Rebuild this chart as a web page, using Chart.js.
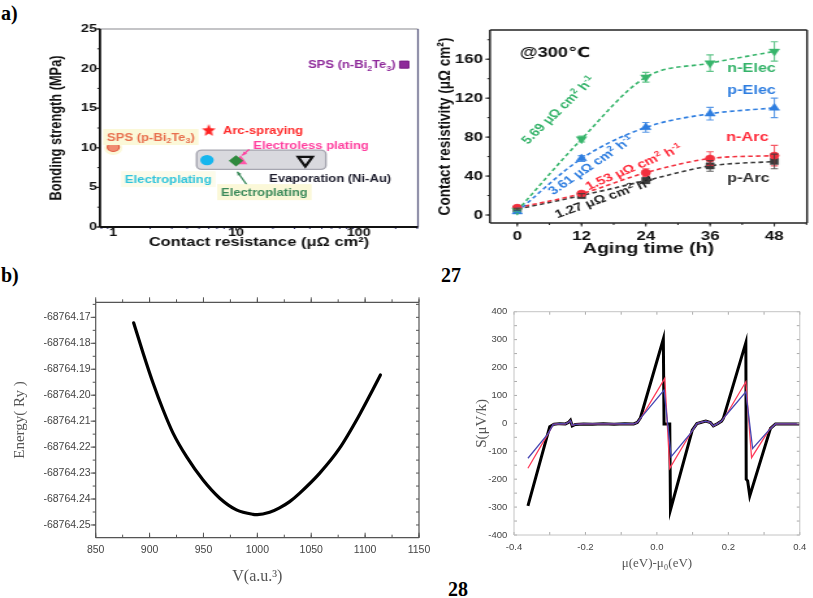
<!DOCTYPE html>
<html>
<head>
<meta charset="utf-8">
<title>Contact resistance, ageing, EOS and Seebeck panels</title>
<script src="https://cdn.jsdelivr.net/npm/chart.js@4.4.1/dist/chart.umd.min.js"></script>
<style>
  html, body { margin: 0; padding: 0; background: #fff; }
  body { position: relative; width: 813px; height: 598px; overflow: hidden; }
  .box { position: absolute; }
  .box canvas { display: block; }
  .wide { transform: scaleX(1.3); transform-origin: 0 0; }
  .tag { position: absolute; font: bold 20px "Liberation Serif", "DejaVu Serif", serif; line-height: 20px; color: #000; }
</style>
</head>
<body>
<div class="tag" style="left:1px;top:3px">a)</div>
<div class="tag" style="left:1px;top:265px">b)</div>
<div class="tag" style="left:441px;top:265px">27</div>
<div class="tag" style="left:448px;top:579px">28</div>

<div class="box wide" style="left:0;top:0"><canvas id="bond" width="323" height="260"></canvas></div>
<div class="box wide" style="left:420px;top:0"><canvas id="aging" width="302" height="260"></canvas></div>
<div class="box" style="left:0;top:260px"><canvas id="eos" width="440" height="338"></canvas></div>
<div class="box" style="left:440px;top:260px"><canvas id="seebeck" width="373" height="338"></canvas></div>

<script>
// a) left - bonding strength against contact resistance
const bondMethods = ['SPS (p-Bi2Te3)', 'Arc-spraying', 'Electroplating', 'Electroless plating', 'Electroplating', 'Evaporation (Ni-Au)', 'SPS (n-Bi2Te3)'];
const bondResist = [1.0, 6.0, 5.8, 10.9, 10.0, 36.7, 235];
const bondStrength = [10.1, 12.25, 8.45, 8.3, 8.35, 8.45, 20.5];
const resistTicks = [1, 10, 100];
const strengthTicks = [0, 5, 10, 15, 20, 25];
const groupBox = { x: [4.78, 54], y: [7.27, 9.71] };

// a) right - contact resistivity during ageing at 300 C
const agingHours = [0, 12, 24, 36, 48];
const nElec = [4.5, 78, 141.5, 156, 168];
const pElec = [3.5, 58, 90, 104, 110];
const nArc = [7.5, 22, 43.5, 58, 61];
const pArc = [6, 20, 35.3, 50.4, 55];
const nElecErr = [1, 3, 5, 8.5, 10];
const pElecErr = [1, 3, 5, 6.5, 10];
const nArcErr = [1, 2, 4, 7, 10.5];
const pArcErr = [1, 2, 3, 5.5, 7.5];
const hourTicks = [0, 12, 24, 36, 48];
const rhoTicks = [0, 40, 80, 120, 160];

// b) left - energy against cell volume
const cellVolume = [885.2, 894.1, 903.3, 912.6, 921.9, 934.3, 949.6, 965.1, 980.6, 995.9, 1000, 1011.4, 1020.6, 1030.0, 1039.1, 1057.7, 1076.2, 1094.7, 1107.0, 1114.2];
const totalEnergy = [-68764.1721, -68764.1839, -68764.1954, -68764.2057, -68764.2147, -68764.2237, -68764.2327, -68764.2397, -68764.2442, -68764.2459, -68764.2460,
  -68764.2451, -68764.2434, -68764.2410, -68764.2378, -68764.2301, -68764.2205, -68764.2076, -68764.1980, -68764.1922];
const volTicks = [850, 900, 950, 1000, 1050, 1100, 1150];
const energyTicks = [-68764.17, -68764.18, -68764.19, -68764.20, -68764.21, -68764.22, -68764.23, -68764.24, -68764.25];

// b) right - Seebeck coefficient against chemical potential
const seebeckBlack = [[-0.361, -296], [-0.300, -12], [-0.288, -3], [-0.272, -1], [-0.256, -2], [-0.247, 4], [-0.242, 11], [-0.237, -9], [-0.228, -4],
  [-0.205, -2], [-0.180, -3], [-0.150, -1], [-0.120, -3], [-0.090, -1], [-0.065, -2], [-0.055, 3], [-0.046, 20], [0.018, 302], [0.020, -2],
  [0.036, -2], [0.038, -310], [0.099, -24], [0.112, -1], [0.125, 4], [0.137, 8], [0.150, 3], [0.158, -9], [0.170, -1], [0.181, 8], [0.186, 18],
  [0.249, 289], [0.250, -200], [0.254, -206], [0.260, -260], [0.318, -18], [0.332, -2], [0.360, -2], [0.400, -2]];
const seebeckRed = [[-0.361, -161], [-0.304, -36], [-0.290, -4], [-0.272, -1], [-0.256, -2], [-0.247, 4], [-0.242, 10], [-0.237, -7], [-0.228, -4],
  [-0.205, -2], [-0.180, -2], [-0.150, -2], [-0.120, -2], [-0.090, -1], [-0.065, -2], [-0.055, 3], [-0.042, 24], [0.022, 161], [0.036, -161],
  [0.096, -32], [0.112, -1], [0.125, 4], [0.137, 8], [0.150, 3], [0.158, -9], [0.170, -1], [0.181, 8], [0.194, 30], [0.249, 149], [0.265, -123],
  [0.315, -22], [0.332, -2], [0.360, -2], [0.400, -2]];
const seebeckBlue = [[-0.361, -125], [-0.304, -36], [-0.290, -4], [-0.272, -1], [-0.256, -2], [-0.247, 4], [-0.242, 10], [-0.237, -7], [-0.228, -4],
  [-0.205, -2], [-0.180, -2], [-0.150, -2], [-0.120, -2], [-0.090, -1], [-0.065, -2], [-0.055, 3], [-0.042, 24], [0.020, 119], [0.040, -119],
  [0.094, -36], [0.112, -1], [0.125, 4], [0.137, 8], [0.150, 3], [0.158, -9], [0.170, -1], [0.181, 8], [0.194, 30], [0.249, 113], [0.268, -90],
  [0.313, -25], [0.332, -2], [0.360, -2], [0.400, -2]];
const muTicks = [-0.4, -0.2, 0, 0.2, 0.4];
const sTicks = [-400, -300, -200, -100, 0, 100, 200, 300, 400];

const SANS = '"Liberation Sans", Arial, "DejaVu Sans", sans-serif';
const SERIF = '"Liberation Serif", "Times New Roman", "DejaVu Serif", serif';
Chart.defaults.font.family = SANS;
Chart.defaults.plugins.legend.display = false;
Chart.defaults.plugins.tooltip.enabled = false;
Chart.defaults.animation = false;
Chart.defaults.layout.autoPadding = false;

function fixed(size) {
  return function (s) { if (s.isHorizontal()) s.height = size; else s.width = size; };
}
function setTicks(list) {
  return function (s) { s.ticks = list.map(v => ({ value: v })); };
}
function steps(min, max, step) {
  const out = [];
  for (let v = Math.ceil(min / step - 1e-6) * step; v <= max + 1e-9; v += step) out.push(v);
  return out;
}
function logMinors(min, max) {
  const out = [];
  for (let e = -1; e <= 3; e++) for (let k = 2; k < 10; k++) {
    const v = k * Math.pow(10, e);
    if (v >= min && v <= max) out.push(v);
  }
  return out;
}

// text with _{sub} and ^{sup} runs, y is the middle of the line
function richText(ctx, str, x, y, o) {
  const size = o.size, fam = o.family || SANS, wt = o.weight || 'bold';
  const parts = [];
  const re = /([_^])\{([^}]*)\}/g;
  let last = 0, m;
  while ((m = re.exec(str)) !== null) {
    if (m.index > last) parts.push({ t: str.slice(last, m.index), k: 0 });
    parts.push({ t: m[2], k: m[1] === '_' ? 1 : -1 });
    last = re.lastIndex;
  }
  if (last < str.length) parts.push({ t: str.slice(last), k: 0 });
  let total = 0;
  parts.forEach(p => {
    p.s = p.k ? size * 0.68 : size;
    ctx.font = wt + ' ' + p.s + 'px ' + fam;
    p.w = ctx.measureText(p.t).width;
    total += p.w;
  });
  let cx = o.align === 'center' ? x - total / 2 : x;
  if (o.bg) { ctx.fillStyle = o.bg; ctx.fillRect(cx - 3, y - size * 0.8, total + 6, size * 1.6); }
  ctx.fillStyle = o.color;
  ctx.textAlign = 'left';
  ctx.textBaseline = 'alphabetic';
  const base = y + size * 0.36;
  parts.forEach(p => {
    ctx.font = wt + ' ' + p.s + 'px ' + fam;
    const dy = p.k === 1 ? size * 0.22 : (p.k === -1 ? -size * 0.38 : 0);
    ctx.fillText(p.t, cx, base + dy);
    cx += p.w;
  });
}

function notesPlugin(notes) {
  return {
    id: 'notes',
    afterDatasetsDraw(chart) {
      const { ctx, scales: { x, y } } = chart;
      notes.forEach(n => {
        ctx.save();
        ctx.translate(x.getPixelForValue(n.x), y.getPixelForValue(n.y));
        if (n.rot) ctx.rotate(n.rot * Math.PI / 180);
        richText(ctx, n.text, 0, 0, n);
        ctx.restore();
      });
    }
  };
}

// frame box and tick marks; each spec: side, values, length, out
function framePlugin(frame, specs) {
  return {
    id: 'frame',
    afterDatasetsDraw(chart) {
      const { ctx, chartArea: a } = chart;
      ctx.save();
      ctx.lineCap = 'butt';
      specs.forEach(t => {
        const vertical = t.side === 'left' || t.side === 'right';
        const sc = vertical ? chart.scales.y : chart.scales.x;
        const dir = t.out ? 1 : -1;
        ctx.strokeStyle = t.color || frame.color;
        ctx.lineWidth = t.width || 1;
        t.at.forEach(v => {
          const p = sc.getPixelForValue(v);
          ctx.beginPath();
          if (vertical) {
            const x0 = t.side === 'left' ? a.left : a.right, sx = t.side === 'left' ? -1 : 1;
            ctx.moveTo(x0, p); ctx.lineTo(x0 + sx * dir * t.len, p);
          } else {
            const y0 = t.side === 'top' ? a.top : a.bottom, sy = t.side === 'top' ? -1 : 1;
            ctx.moveTo(p, y0); ctx.lineTo(p, y0 + sy * dir * t.len);
          }
          ctx.stroke();
        });
      });
      (frame.edges || [['top'], ['right'], ['bottom'], ['left']]).forEach(e => {
        ctx.strokeStyle = e[1] || frame.color;
        ctx.lineWidth = e[2] || frame.width;
        ctx.beginPath();
        if (e[0] === 'top') { ctx.moveTo(a.left, a.top); ctx.lineTo(a.right, a.top); }
        if (e[0] === 'bottom') { ctx.moveTo(a.left, a.bottom); ctx.lineTo(a.right, a.bottom); }
        if (e[0] === 'left') { ctx.moveTo(a.left, a.top); ctx.lineTo(a.left, a.bottom); }
        if (e[0] === 'right') { ctx.moveTo(a.right, a.top); ctx.lineTo(a.right, a.bottom); }
        ctx.stroke();
      });
      ctx.restore();
    }
  };
}

function axis(o) {
  return {
    type: o.type || 'linear',
    min: o.min, max: o.max,
    afterBuildTicks: setTicks(o.ticks),
    afterFit: fixed(o.size),
    grid: { display: false, drawTicks: false },
    border: { display: false },
    ticks: {
      autoSkip: false, maxRotation: 0, padding: o.pad, color: o.color || '#111',
      font: { size: o.font, weight: o.weight || 'normal', family: o.family || SANS },
      callback: o.fmt || (v => String(v))
    },
    title: {
      display: true, text: o.title, color: o.titleColor || o.color || '#111',
      font: { size: o.titleFont, weight: o.weight || 'normal', family: o.titleFamily || SANS },
      padding: o.titlePad
    }
  };
}

function starImage(r, color) {
  const c = document.createElement('canvas');
  c.width = c.height = Math.ceil(r * 2) + 2;
  const g = c.getContext('2d'), m = c.width / 2;
  g.beginPath();
  for (let i = 0; i < 10; i++) {
    const rr = i % 2 ? r * 0.45 : r, ang = -Math.PI / 2 + i * Math.PI / 5;
    g.lineTo(m + rr * Math.cos(ang) * 0.82, m + 0.6 + rr * Math.sin(ang));
  }
  g.closePath();
  g.fillStyle = color;
  g.fill();
  return c;
}

// ---------------- a) left
const bondLook = [
  { style: 'circle', r: 4.5, fill: '#f08a70', line: '#e0583e', bw: 1.2, order: 0 },
  { style: starImage(6.6, '#ff2222'), r: 6.6, fill: '#ff2222', line: '#ff2222', bw: 0, order: 0 },
  { style: 'circle', r: 5.2, fill: '#16b6ee', line: '#16b6ee', bw: 0, order: 0 },
  { style: 'triangle', r: 6, fill: '#ff55a8', line: '#ff55a8', bw: 0, order: 1 },
  { style: 'rectRot', r: 5.6, fill: '#2f8a3e', line: '#2f8a3e', bw: 0, order: 0 },
  { style: 'triangle', r: 6.4, fill: 'rgba(0,0,0,0)', line: '#111', bw: 2.2, rot: 180, order: 0 },
  { style: 'rect', r: 5, fill: '#8e2a9a', line: '#7a1f86', bw: 1, order: 0 }
];

const groupBoxPlugin = {
  id: 'groupBox',
  beforeDatasetsDraw(chart) {
    const { ctx, scales: { x, y } } = chart;
    const x0 = x.getPixelForValue(groupBox.x[0]), x1 = x.getPixelForValue(groupBox.x[1]);
    const y0 = y.getPixelForValue(groupBox.y[1]), y1 = y.getPixelForValue(groupBox.y[0]);
    ctx.save();
    ctx.fillStyle = '#fbf8d8';
    const px = x.getPixelForValue(bondResist[0]), py = y.getPixelForValue(bondStrength[0]);
    ctx.beginPath(); ctx.arc(px, py + 1, 7, 0, Math.PI * 2); ctx.fill();
    ctx.beginPath();
    ctx.roundRect(x0, y0, x1 - x0, y1 - y0, 4);
    ctx.fillStyle = '#d9d9de';
    ctx.fill();
    ctx.strokeStyle = '#a6a6b0';
    ctx.lineWidth = 1.4;
    ctx.stroke();
    ctx.restore();
  }
};

const bondArrows = {
  id: 'arrows',
  afterDatasetsDraw(chart) {
    const { ctx, scales: { x, y } } = chart;
    const arrows = [
      { from: [12.8, 9.8], to: [11.25, 9.04], color: '#ff3f9f' },
      { from: [12.3, 5.28], to: [10.25, 6.97], color: '#3b8a5a' }
    ];
    ctx.save();
    arrows.forEach(ar => {
      const x0 = x.getPixelForValue(ar.from[0]), y0 = y.getPixelForValue(ar.from[1]);
      const x1 = x.getPixelForValue(ar.to[0]), y1 = y.getPixelForValue(ar.to[1]);
      const ang = Math.atan2(y1 - y0, x1 - x0);
      ctx.strokeStyle = ar.color; ctx.fillStyle = ar.color; ctx.lineWidth = 1.3;
      ctx.beginPath(); ctx.moveTo(x0, y0); ctx.lineTo(x1, y1); ctx.stroke();
      ctx.beginPath();
      ctx.moveTo(x1, y1);
      ctx.lineTo(x1 - 4 * Math.cos(ang - 0.45), y1 - 4 * Math.sin(ang - 0.45));
      ctx.lineTo(x1 - 4 * Math.cos(ang + 0.45), y1 - 4 * Math.sin(ang + 0.45));
      ctx.closePath(); ctx.fill();
    });
    ctx.restore();
  }
};

new Chart(document.getElementById('bond'), {
  type: 'scatter',
  data: {
    datasets: bondMethods.map((name, i) => ({
      label: name,
      data: [{ x: bondResist[i], y: bondStrength[i] }],
      order: bondLook[i].order,
      pointStyle: bondLook[i].style,
      pointRadius: bondLook[i].r,
      pointRotation: bondLook[i].rot || 0,
      pointBackgroundColor: bondLook[i].fill,
      pointBorderColor: bondLook[i].line,
      pointBorderWidth: bondLook[i].bw
    }))
  },
  options: {
    responsive: false,
    layout: { padding: { left: 0, top: 29, right: 1.5, bottom: 0 } },
    scales: {
      x: axis({ type: 'logarithmic', min: 0.779, max: 304, ticks: resistTicks, size: 33, pad: -0.5, font: 11, weight: 'bold',
        title: 'Contact resistance (μΩ cm²)', titleFont: 12.7, titlePad: { top: 0, bottom: 9.5 } }),
      y: axis({ min: 0, max: 25, ticks: strengthTicks, size: 76.9, pad: 2.3, font: 11, weight: 'bold',
        title: 'Bonding strength (MPa)', titleFont: 12.8, titlePad: { top: 36.1, bottom: 0 } })
    }
  },
  plugins: [
    groupBoxPlugin,
    bondArrows,
    notesPlugin([
      { text: 'SPS (p-Bi_{2}Te_{3})', x: 0.89, y: 11.36, color: '#e8704f', size: 10, bg: '#fbf8d8' },
      { text: 'Arc-spraying', x: 7.83, y: 12.25, color: '#ff2a2a', size: 10 },
      { text: 'Electroless plating', x: 13.8, y: 10.35, color: '#ff3f9f', size: 10 },
      { text: 'Electroplating', x: 1.245, y: 6.04, color: '#2ec4dc', size: 10, bg: '#fcfbea' },
      { text: 'Electroplating', x: 7.55, y: 4.4, color: '#3b8a5a', size: 10, bg: '#fbf8d8' },
      { text: 'Evaporation (Ni-Au)', x: 18.6, y: 6.17, color: '#1c1c2c', size: 10 },
      { text: 'SPS (n-Bi_{2}Te_{3})', x: 38.6, y: 20.48, color: '#8e2a9a', size: 10 }
    ]),
    framePlugin({ color: '#222', width: 1.6, edges: [['top', '#8a8a90', 1.2], ['right', '#5a5a80', 1.2], ['bottom', '#111', 1.8], ['left', '#111', 1.8]] }, [
      { side: 'left', at: strengthTicks, len: 3.5, out: true },
      { side: 'left', at: steps(0, 25, 2.5), len: 2, out: true },
      { side: 'bottom', at: resistTicks, len: 3.5, out: true },
      { side: 'bottom', at: logMinors(0.779, 304), len: 2, out: true, color: '#2a2a70' }
    ])
  ]
});

// ---------------- a) right
const agingLook = [
  { label: 'n-Elec', values: nElec, err: nElecErr, color: '#38b56c', style: 'triangle', rot: 180, r: 4.6 },
  { label: 'p-Elec', values: pElec, err: pElecErr, color: '#2f7ee0', style: 'triangle', rot: 0, r: 4.6 },
  { label: 'n-Arc', values: nArc, err: nArcErr, color: '#f2303e', style: 'circle', rot: 0, r: 3.6 },
  { label: 'p-Arc', values: pArc, err: pArcErr, color: '#3a3a3a', style: 'rect', rot: 0, r: 4.4 }
];

const errorBars = {
  id: 'errorBars',
  afterDatasetsDraw(chart) {
    const { ctx, scales: { x, y } } = chart;
    ctx.save();
    chart.data.datasets.forEach(ds => {
      ctx.strokeStyle = ds.borderColor;
      ctx.globalAlpha = 0.8;
      ctx.lineWidth = 1.1;
      ds.data.forEach((pt, i) => {
        const e = ds.errors[i];
        const px = x.getPixelForValue(pt.x), top = y.getPixelForValue(pt.y + e), bot = y.getPixelForValue(pt.y - e);
        ctx.beginPath();
        ctx.moveTo(px, top); ctx.lineTo(px, bot);
        ctx.moveTo(px - 2.8, top); ctx.lineTo(px + 2.8, top);
        ctx.moveTo(px - 2.8, bot); ctx.lineTo(px + 2.8, bot);
        ctx.stroke();
      });
    });
    ctx.restore();
  }
};

new Chart(document.getElementById('aging'), {
  type: 'line',
  data: {
    datasets: agingLook.map(s => ({
      label: s.label,
      data: agingHours.map((h, i) => ({ x: h, y: s.values[i] })),
      errors: s.err,
      borderColor: s.color,
      borderWidth: 1.6,
      borderDash: [3.5, 2.5],
      tension: 0.4,
      cubicInterpolationMode: 'monotone',
      pointStyle: s.style,
      pointRotation: s.rot,
      pointRadius: s.r,
      pointBackgroundColor: s.color,
      pointBorderColor: s.color,
      pointBorderWidth: 0.5
    }))
  },
  options: {
    responsive: false,
    layout: { padding: { left: 0, top: 30, right: 4.3, bottom: 0 } },
    scales: {
      x: axis({ min: -5.1, max: 54.1, ticks: hourTicks, size: 37, pad: 5.6, font: 13, weight: 'bold',
        title: 'Aging time (h)', titleFont: 15, titlePad: { top: 0, bottom: 1.8 } }),
      y: axis({ min: -8.2, max: 190, ticks: rhoTicks, size: 53.8, pad: 5.3, font: 13, weight: 'bold',
        title: 'Contact resistivity (μΩ cm²)', titleFont: 13.6, titlePad: { top: 11, bottom: 0 } })
    }
  },
  plugins: [
    errorBars,
    notesPlugin([
      { text: '@300℃', x: 0.5, y: 167.5, color: '#111', size: 14, family: '"Liberation Sans", "DejaVu Sans", sans-serif' },
      { text: 'n-Elec', x: 39.2, y: 152, color: '#35b36a', size: 12.5 },
      { text: 'p-Elec', x: 39.2, y: 128.5, color: '#2f7ee0', size: 12.5 },
      { text: 'n-Arc', x: 39.0, y: 80.2, color: '#ff2b3b', size: 12.5 },
      { text: 'p-Arc', x: 39.2, y: 38.3, color: '#303030', size: 12.5 },
      { text: '5.69 μΩ cm^{2} h^{-1}', x: 7.6, y: 108, rot: -50.7, align: 'center', color: '#35b36a', size: 11.5 },
      { text: '3.61 μΩ cm^{2} h^{-1}', x: 13.7, y: 51.4, rot: -40.9, align: 'center', color: '#2f7ee0', size: 11.5 },
      { text: '1.53 μΩ cm^{2} h^{-1}', x: 21.7, y: 49.6, rot: -28.5, align: 'center', color: '#ff2b3b', size: 11.5 },
      { text: '1.27 μΩ cm^{2} h^{-1}', x: 16.3, y: 18.2, rot: -24.4, align: 'center', color: '#222', size: 11.5 }
    ]),
    framePlugin({ color: '#222', width: 1.5 }, [
      { side: 'left', at: rhoTicks, len: 3.5, out: true },
      { side: 'left', at: steps(-8, 190, 20), len: 2, out: true },
      { side: 'bottom', at: hourTicks, len: 3.5, out: true },
      { side: 'bottom', at: steps(-5, 54, 6), len: 2, out: true }
    ])
  ]
});

// ---------------- b) left
new Chart(document.getElementById('eos'), {
  type: 'line',
  data: {
    datasets: [{
      label: 'Energy',
      data: cellVolume.map((v, i) => ({ x: v, y: totalEnergy[i] })),
      borderColor: '#000',
      borderWidth: 3.2,
      borderCapStyle: 'round',
      tension: 0.4,
      cubicInterpolationMode: 'monotone',
      pointRadius: 0
    }]
  },
  options: {
    responsive: false,
    layout: { padding: { left: 0, top: 42.3, right: 21, bottom: 0 } },
    scales: {
      x: axis({ min: 850, max: 1150, ticks: volTicks, size: 60.3, pad: 6, font: 10.5, color: '#444',
        title: 'V(a.u.³)', titleFont: 16, titleFamily: SERIF, titleColor: '#555', titlePad: { top: 0, bottom: 11.7 } }),
      y: axis({ min: -68764.2549, max: -68764.1642, ticks: energyTicks, size: 95.7, pad: 5, font: 10.5, color: '#444',
        fmt: v => v.toFixed(2),
        title: 'Energy( Ry )', titleFont: 15, titleFamily: SERIF, titleColor: '#555', titlePad: { top: 11, bottom: 0 } })
    }
  },
  plugins: [
    framePlugin({ color: '#555', width: 1.2 }, [
      { side: 'left', at: energyTicks, len: 5, out: true },
      { side: 'left', at: steps(-68764.2549, -68764.1642, 0.005), len: 3, out: true },
      { side: 'top', at: volTicks, len: 5, out: true },
      { side: 'top', at: steps(850, 1150, 25), len: 3, out: true },
      { side: 'bottom', at: volTicks, len: 5, out: false },
      { side: 'bottom', at: steps(850, 1150, 25), len: 3, out: false },
      { side: 'right', at: steps(-68764.2549, -68764.1642, 0.005), len: 3, out: false }
    ])
  ]
});

// ---------------- b) right
new Chart(document.getElementById('seebeck'), {
  type: 'line',
  data: {
    datasets: [
      { label: 'blue', data: seebeckBlue.map(p => ({ x: p[0], y: p[1] })), borderColor: '#4848b4', borderWidth: 1.3 },
      { label: 'red', data: seebeckRed.map(p => ({ x: p[0], y: p[1] })), borderColor: '#ff3c5a', borderWidth: 1.3 },
      { label: 'black', data: seebeckBlack.map(p => ({ x: p[0], y: p[1] })), borderColor: '#000', borderWidth: 3 }
    ].map(d => Object.assign(d, { pointRadius: 0, tension: 0 }))
  },
  options: {
    responsive: false,
    layout: { padding: { left: 0, top: 51.7, right: 6.3, bottom: 0 } },
    scales: {
      x: axis({ min: -0.4, max: 0.4, ticks: muTicks, size: 63, pad: 6.6, font: 9.5, color: '#444',
        fmt: v => v.toFixed(1),
        title: 'μ(eV)-μ₀(eV)', titleFont: 13, titleFamily: SERIF, titleColor: '#555', titlePad: { top: 0, bottom: 26.2 } }),
      y: axis({ min: -400, max: 400, ticks: sTicks, size: 74, pad: 6.7, font: 9.5, color: '#444',
        title: 'S(μV/k)', titleFont: 15, titleFamily: SERIF, titleColor: '#555', titlePad: { top: 33, bottom: 0 } })
    }
  },
  plugins: [
    framePlugin({ color: '#c4c4c4', width: 1 }, [
      { side: 'left', at: steps(-400, 400, 50), len: 3, out: false, color: '#aaa' },
      { side: 'right', at: steps(-400, 400, 50), len: 3, out: false, color: '#aaa' },
      { side: 'top', at: steps(-0.4, 0.4, 0.1), len: 3, out: false, color: '#aaa' },
      { side: 'bottom', at: steps(-0.4, 0.4, 0.1), len: 3, out: false, color: '#aaa' }
    ])
  ]
});
</script>
</body>
</html>
